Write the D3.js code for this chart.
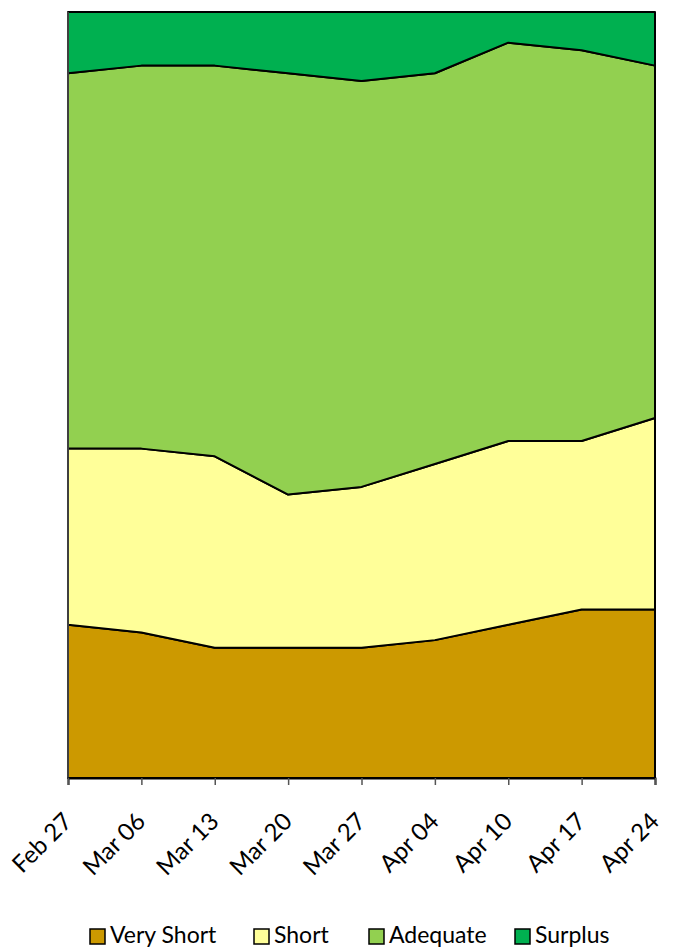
<!DOCTYPE html>
<html>
<head>
<meta charset="utf-8">
<script src="https://cdn.jsdelivr.net/npm/d3@7"></script>
<style>
  body { margin: 0; background: #fff; }
  text { font-family: Lato, "Open Sans", sans-serif; fill: #000; }
</style>
</head>
<body>
<svg id="chart" width="673" height="950"></svg>
<script>
// weeks shown on the x axis
let weeks = ["Feb 27", "Mar 06", "Mar 13", "Mar 20", "Mar 27", "Apr 04", "Apr 10", "Apr 17", "Apr 24"];
// percent of area in each condition
let veryShort = [20, 19, 17, 17, 17, 18, 20, 22, 22];
let short = [23, 24, 25, 20, 21, 23, 24, 22, 25];
let adequate = [49, 50, 51, 55, 53, 51, 52, 51, 46];
let surplus = [8, 7, 7, 8, 9, 8, 4, 5, 7];

let seriesNames = ["Very Short", "Short", "Adequate", "Surplus"];
let colors = ["#cc9900", "#ffff99", "#92d050", "#00b050"];

let rows = weeks.map(function (w, i) {
  return { week: w, "Very Short": veryShort[i], "Short": short[i], "Adequate": adequate[i], "Surplus": surplus[i] };
});

let svg = d3.select("#chart");
let margin = { left: 68, right: 18, top: 12, bottom: 172 };
let width = 673 - margin.left - margin.right;
let height = 950 - margin.top - margin.bottom;

let x = d3.scalePoint().domain(weeks).range([0, width]);
let y = d3.scaleLinear().domain([0, 100]).range([height, 0]);

let stack = d3.stack().keys(seriesNames);
let layers = stack(rows);

let area = d3.area()
  .x(function (d) { return x(d.data.week); })
  .y0(function (d) { return y(d[0]); })
  .y1(function (d) { return y(d[1]); });

let g = svg.append("g").attr("transform", "translate(" + margin.left + "," + margin.top + ")");

g.selectAll("path.layer").data(layers).join("path")
  .attr("class", "layer")
  .attr("d", area)
  .style("fill", function (d, i) { return colors[i]; })
  .style("stroke", "#000")
  .style("stroke-width", 2)
  .style("stroke-linejoin", "round");

// left axis line
g.append("line")
  .attr("x1", 0).attr("x2", 0).attr("y1", 0).attr("y2", height)
  .style("stroke", "#555").style("stroke-width", 1.5);

// bottom axis
let xAxis = g.append("g").attr("transform", "translate(0," + height + ")")
  .call(d3.axisBottom(x).tickSize(7).tickPadding(4));
xAxis.select(".domain").style("stroke", "#000").style("stroke-width", 2);
xAxis.selectAll(".tick line").style("stroke", "#555").style("stroke-width", 1.5);
xAxis.selectAll(".tick text")
  .style("font-family", "Lato, 'Open Sans', sans-serif")
  .style("font-size", "24px")
  .attr("text-anchor", "end")
  .attr("dy", 0)
  .attr("x", 0)
  .attr("y", 0)
  .attr("transform", "translate(5,45) rotate(-45)");

// legend
let legendX = [90, 254, 369, 515];
let legend = svg.append("g").attr("class", "legend");
legend.selectAll("rect").data(seriesNames).join("rect")
  .attr("x", function (d, i) { return legendX[i]; })
  .attr("y", 929)
  .attr("width", 15)
  .attr("height", 15)
  .style("fill", function (d, i) { return colors[i]; })
  .style("stroke", "#000")
  .style("stroke-width", 1.5);
legend.selectAll("text").data(seriesNames).join("text")
  .attr("x", function (d, i) { return legendX[i] + 20; })
  .attr("y", 943)
  .style("font-size", "23px")
  .text(function (d) { return d; });
</script>
</body>
</html>
